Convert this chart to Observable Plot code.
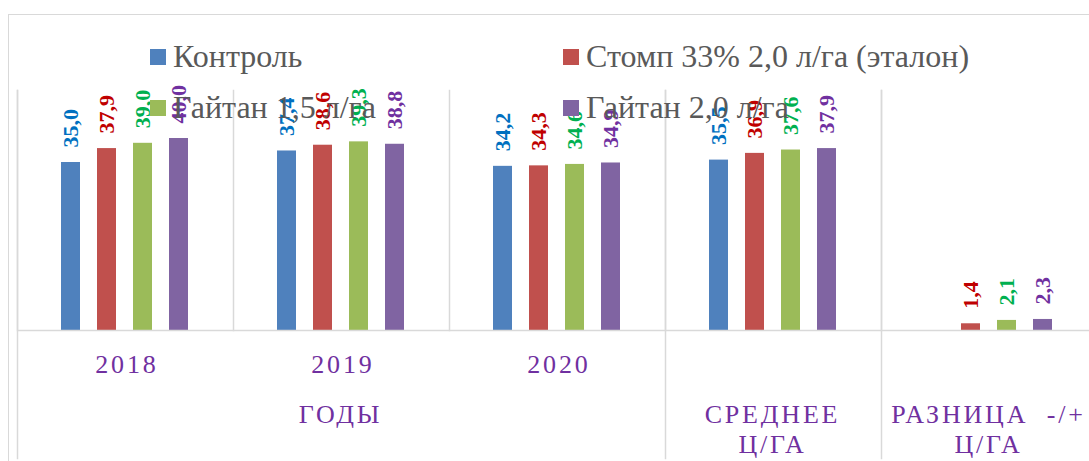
<!DOCTYPE html>
<html>
<head>
<meta charset="utf-8">
<script src="https://cdn.jsdelivr.net/npm/d3@7"></script>
<script src="https://cdn.jsdelivr.net/npm/@observablehq/plot@0.6"></script>
<style>
  html, body { margin: 0; padding: 0; background: #fff; }
  #wrap { position: relative; width: 1089px; height: 461px; overflow: hidden; }
  #border { position: absolute; left: 8px; top: 14px; right: -10px; bottom: -10px;
            border-left: 1.5px solid #d9d9d9; border-top: 1.5px solid #d9d9d9; }
  #chart { position: absolute; left: 0; top: 0; }
  #chart g[font-size="26"] text, #chart g[font-size="26"] tspan { letter-spacing: 2.8px; }
  #legend { position: absolute; left: 150px; top: 31px; display: grid;
            grid-template-columns: 413px auto; pointer-events: none;
            font-family: "Liberation Serif", "Times New Roman", serif;
            font-size: 32px; color: #595959; line-height: 51px; white-space: nowrap; }
  #legend .item { display: flex; align-items: center; }
  #legend .sw { width: 16px; height: 16px; margin-right: 7px; flex: none; }
</style>
</head>
<body>
<div id="wrap">
  <div id="border"></div>
  <div id="chart"></div>
  <div id="legend"></div>
</div>
<script>
const categories = ["2018", "2019", "2020", "СРЕДНЕЕ", "РАЗНИЦА"];
const series = ["Контроль", "Стомп 33% 2,0 л/га (эталон)", "Гайтан 1,5 л/га", "Гайтан 2,0 л/га"];
const yield2018 = [35.0, 37.9, 39.0, 40.0];
const yield2019 = [37.4, 38.6, 39.3, 38.8];
const yield2020 = [34.2, 34.3, 34.6, 34.9];
const yieldMean = [35.5, 36.9, 37.6, 37.9];
const yieldDiff = [null, 1.4, 2.1, 2.3];
const barColors = ["#4F81BD", "#C0504D", "#9BBB59", "#8064A2"];
const labelColors = ["#0070C0", "#C00000", "#00B050", "#7030A0"];
const yearLabels = ["2018", "2019", "2020"];
const groupLabels = ["ГОДЫ", "СРЕДНЕЕ\nЦ/ГА", "РАЗНИЦА\u00a0\u00a0-/+\nЦ/ГА"];
const groupLabelCats = ["2019", "СРЕДНЕЕ", "РАЗНИЦА"];
const extendedSeparators = ["2018", "СРЕДНЕЕ", "РАЗНИЦА"];

const valuesByCat = [yield2018, yield2019, yield2020, yieldMean, yieldDiff];
const rows = categories.flatMap((c, i) =>
  valuesByCat[i].map((v, j) => ({cat: c, series: series[j], value: v, bar: barColors[j], lab: labelColors[j]}))
).filter(d => d.value != null);

const fmt = v => d3.format(".1f")(v).replace(".", ",");
const serif = '"Liberation Serif", "Times New Roman", serif';
const purple = "#7030A0";
const gridColor = "#d9d9d9";

const chart = Plot.plot({
  width: 1089,
  height: 461,
  marginTop: 90,
  marginBottom: 131,
  marginLeft: 17,
  marginRight: 0,
  fx: {domain: categories, padding: 0, axis: null, range: [17, 1097], label: null},
  x: {domain: series, paddingInner: 0.47, paddingOuter: 1.16, axis: null},
  y: {domain: [0, 50], axis: null},
  color: {type: "identity"},
  style: {fontFamily: serif, background: "transparent", overflow: "visible"},
  marks: [
    Plot.frame({anchor: "left", stroke: gridColor, strokeWidth: 1.5, strokeOpacity: 1}),
    ...extendedSeparators.map(c => Plot.frame({anchor: "left", fx: c, insetBottom: -128, stroke: gridColor, strokeWidth: 1.5, strokeOpacity: 1})),
    Plot.barY(rows, {fx: "cat", x: "series", y: "value", fill: "bar"}),
    Plot.ruleY([0], {stroke: gridColor, strokeWidth: 1.5}),
    Plot.text(rows, {
      fx: "cat", x: "series", y: "value", text: d => fmt(d.value),
      rotate: -90, textAnchor: "start", dy: -15, fill: "lab",
      fontWeight: "bold", fontSize: 22, fontFamily: serif
    }),
    Plot.text(yearLabels, {
      fx: d => d, text: d => d, frameAnchor: "bottom", lineAnchor: "bottom",
      dy: 42, dx: 1.4, fontSize: 26, fill: purple, fontFamily: serif
    }),
    Plot.text(groupLabels, {
      fx: (d, i) => groupLabelCats[i], text: d => d, frameAnchor: "bottom", lineAnchor: "top",
      dy: 71, dx: -1, fontSize: 26, lineHeight: 30 / 26, fill: purple, fontFamily: serif
    })
  ]
});
document.getElementById("chart").appendChild(chart);

// legend (overlaid on the chart, as in the reference)
const legend = document.getElementById("legend");
series.forEach((s, i) => {
  const item = document.createElement("div");
  item.className = "item";
  const sw = document.createElement("span");
  sw.className = "sw";
  sw.style.background = barColors[i];
  const t = document.createElement("span");
  t.textContent = s;
  item.appendChild(sw);
  item.appendChild(t);
  legend.appendChild(item);
});
</script>
</body>
</html>
